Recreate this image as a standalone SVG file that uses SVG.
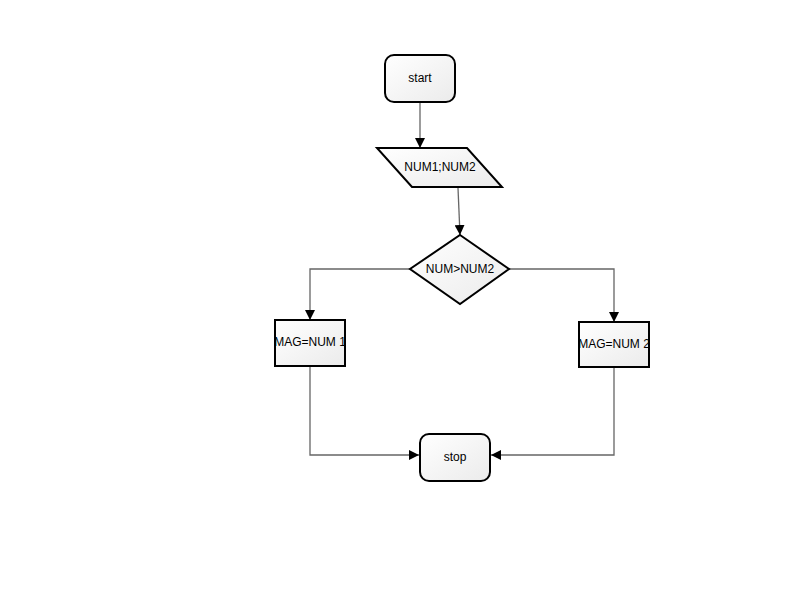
<svg xmlns="http://www.w3.org/2000/svg" width="800" height="600" viewBox="0 0 800 600">
<defs>
<linearGradient id="g" x1="0" y1="0" x2="1" y2="1">
<stop offset="0" stop-color="#ffffff"/>
<stop offset="1" stop-color="#ebebeb"/>
</linearGradient>
<marker id="a" viewBox="0 0 10 10" refX="10" refY="5" markerWidth="10" markerHeight="10" markerUnits="userSpaceOnUse" orient="auto">
<path d="M0,0 L10,5 L0,10 Z" fill="#000"/>
</marker>
<style>
.n{fill:url(#g);stroke:#000;stroke-width:2}
.t{font-family:"Liberation Sans",Arial,sans-serif;font-size:12px;fill:#000;text-anchor:middle;dominant-baseline:central}
.c{fill:none;stroke:#666;stroke-width:1.3}
</style>
</defs>
<rect width="800" height="600" fill="#fff"/>
<g id="connectors">
<path class="c" d="M420,102 L420,148" marker-end="url(#a)"/>
<path class="c" d="M458,188 L460,235" marker-end="url(#a)"/>
<path class="c" d="M410,269 L310,269 L310,320" marker-end="url(#a)"/>
<path class="c" d="M509,269 L614,269 L614,322" marker-end="url(#a)"/>
<path class="c" d="M310,366 L310,455 L419,455" marker-end="url(#a)"/>
<path class="c" d="M614,367 L614,455 L491,455" marker-end="url(#a)"/>
</g>
<g id="start">
<rect class="n" x="385" y="55" width="70" height="47" rx="9"/>
<text class="t" x="420" y="78">start</text>
</g>
<g id="input">
<polygon class="n" points="377,148 467,148 502,187 412,187"/>
<text class="t" x="440" y="167">NUM1;NUM2</text>
</g>
<g id="decision">
<polygon class="n" points="460,235 509,269 460,304 410,269"/>
<text class="t" x="460" y="269">NUM&gt;NUM2</text>
</g>
<g id="mag1">
<rect class="n" x="275" y="320" width="70" height="46"/>
<text class="t" x="310" y="342">MAG=NUM 1</text>
</g>
<g id="mag2">
<rect class="n" x="579" y="322" width="70" height="45"/>
<text class="t" x="614" y="344">MAG=NUM 2</text>
</g>
<g id="stop">
<rect class="n" x="420" y="434" width="70" height="47" rx="9"/>
<text class="t" x="455" y="457">stop</text>
</g>
</svg>
